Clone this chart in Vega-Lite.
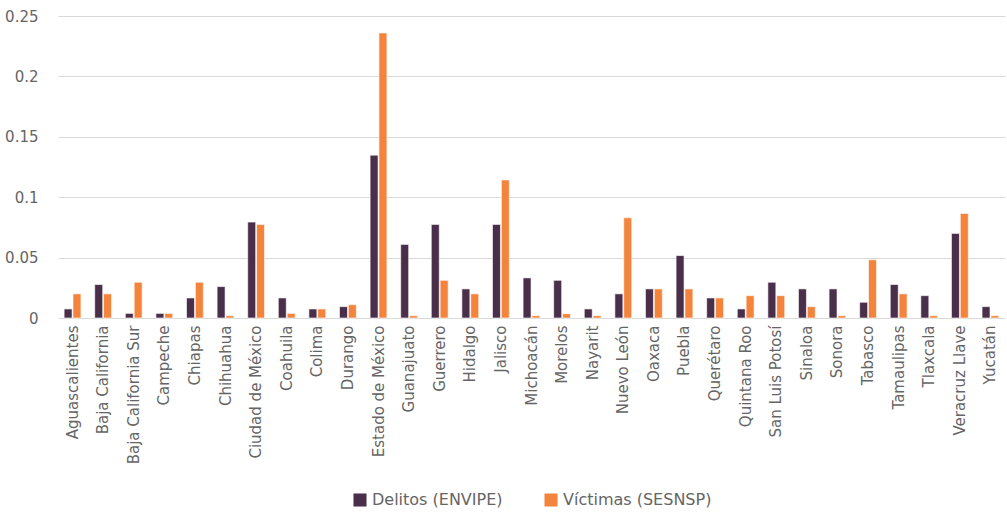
{
  "$schema": "https://vega.github.io/schema/vega-lite/v6.json",
  "width": 1007,
  "height": 512,
  "autosize": {"type": "fit", "contains": "padding"},
  "padding": {"left": 4, "top": 9, "right": 2, "bottom": 4},
  "background": "white",
  "config": {
    "view": {"stroke": null},
    "font": "DejaVu Sans",
    "axis": {"labelColor": "#656565", "labelFont": "DejaVu Sans", "labelFontSize": 15},
    "legend": {"labelColor": "#656565", "labelFont": "DejaVu Sans", "labelFontSize": 16,
               "layout": {"bottom": {"anchor": "middle"}}}
  },
  "datasets": {
    "rows": [
      {"estado": "Aguascalientes", "d": 0.0075, "v": 0.020},
      {"estado": "Baja California", "d": 0.0277, "v": 0.020},
      {"estado": "Baja California Sur", "d": 0.0038, "v": 0.0296},
      {"estado": "Campeche", "d": 0.0038, "v": 0.0038},
      {"estado": "Chiapas", "d": 0.0166, "v": 0.0296},
      {"estado": "Chihuahua", "d": 0.026, "v": 0.0019},
      {"estado": "Ciudad de México", "d": 0.0794, "v": 0.0775},
      {"estado": "Coahuila", "d": 0.0166, "v": 0.0038},
      {"estado": "Colima", "d": 0.0075, "v": 0.0075},
      {"estado": "Durango", "d": 0.0094, "v": 0.011},
      {"estado": "Estado de México", "d": 0.1348, "v": 0.236},
      {"estado": "Guanajuato", "d": 0.0609, "v": 0.0019},
      {"estado": "Guerrero", "d": 0.0775, "v": 0.0312},
      {"estado": "Hidalgo", "d": 0.0241, "v": 0.020},
      {"estado": "Jalisco", "d": 0.0775, "v": 0.1143},
      {"estado": "Michoacán", "d": 0.0332, "v": 0.0019},
      {"estado": "Morelos", "d": 0.0312, "v": 0.0036},
      {"estado": "Nayarit", "d": 0.0075, "v": 0.0019},
      {"estado": "Nuevo León", "d": 0.020, "v": 0.083},
      {"estado": "Oaxaca", "d": 0.0241, "v": 0.0241},
      {"estado": "Puebla", "d": 0.0517, "v": 0.0241},
      {"estado": "Querétaro", "d": 0.0166, "v": 0.0166},
      {"estado": "Quintana Roo", "d": 0.0075, "v": 0.0185},
      {"estado": "San Luis Potosí", "d": 0.0296, "v": 0.0185},
      {"estado": "Sinaloa", "d": 0.0241, "v": 0.0094},
      {"estado": "Sonora", "d": 0.0241, "v": 0.0019},
      {"estado": "Tabasco", "d": 0.013, "v": 0.0482},
      {"estado": "Tamaulipas", "d": 0.0277, "v": 0.020},
      {"estado": "Tlaxcala", "d": 0.0185, "v": 0.0019},
      {"estado": "Veracruz Llave", "d": 0.070, "v": 0.0866},
      {"estado": "Yucatán", "d": 0.0094, "v": 0.0019}
    ]
  },
  "data": {"name": "rows"},
  "transform": [
    {"fold": ["d", "v"], "as": ["k", "value"]},
    {"calculate": "datum.k === 'd' ? 'Delitos (ENVIPE)' : 'Víctimas (SESNSP)'", "as": "serie"}
  ],
  "mark": {"type": "bar", "stroke": "white", "strokeWidth": 0.6},
  "encoding": {
    "x": {
      "field": "estado", "type": "nominal", "sort": null, "title": null,
      "scale": {"paddingInner": 0.45, "paddingOuter": 0.2},
      "axis": {"labelAngle": -90, "ticks": false, "domain": false, "labelPadding": 7, "labelBaseline": "middle"}
    },
    "xOffset": {"field": "serie", "type": "nominal", "scale": {"paddingInner": 0.1}},
    "y": {
      "field": "value", "type": "quantitative", "title": null,
      "scale": {"domain": [0, 0.25]},
      "axis": {"values": [0, 0.05, 0.1, 0.15, 0.2, 0.25], "format": "~g", "ticks": false, "domain": false,
               "gridColor": "#d9d9d9", "gridWidth": 1, "labelPadding": 20}
    },
    "color": {
      "field": "serie", "type": "nominal", "title": null,
      "scale": {"domain": ["Delitos (ENVIPE)", "Víctimas (SESNSP)"], "range": ["#4a2f4b", "#f4843c"]},
      "legend": {"orient": "bottom", "direction": "horizontal", "symbolType": "square", "symbolSize": 170,
                 "symbolStrokeWidth": 0, "columnPadding": 40, "offset": 28}
    }
  }
}
